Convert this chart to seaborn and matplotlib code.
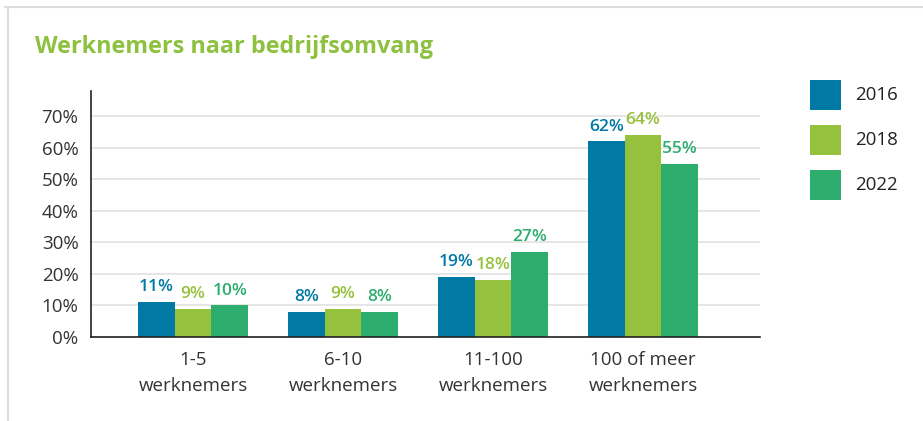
import matplotlib
matplotlib.use("Agg")
import matplotlib.pyplot as plt
import seaborn as sns
import pandas as pd
from matplotlib.lines import Line2D
from matplotlib.patches import Rectangle

categories = ["1-5\nwerknemers", "6-10\nwerknemers", "11-100\nwerknemers", "100 of meer\nwerknemers"]
years = ["2016", "2018", "2022"]
values_2016 = [11, 8, 19, 62]
values_2018 = [9, 9, 18, 64]
values_2022 = [10, 8, 27, 55]
colors = ["#007aa5", "#95c13d", "#2dae6f"]
yticks = [0, 10, 20, 30, 40, 50, 60, 70]

rows = []
for yr, vals in zip(years, [values_2016, values_2018, values_2022]):
    for c, v in zip(categories, vals):
        rows.append({"cat": c, "year": yr, "val": v})
df = pd.DataFrame(rows)

sns.set_theme(style="white")
plt.rcParams["font.family"] = ["Open Sans", "DejaVu Sans"]

W, H = 923, 421
fig = plt.figure(figsize=(W / 100, H / 100), dpi=100)
ax = fig.add_axes([91 / W, 1 - 337 / H, (760 - 91) / W, (337 - 91) / H])

sns.barplot(data=df, x="cat", y="val", hue="year", hue_order=years,
            palette=colors, width=0.735, ax=ax, legend=False, saturation=1,
            linewidth=0, edgecolor="none")

ax.set_xlim(-0.68, 3.78)
ax.set_ylim(0, 78)
ax.set_yticks(yticks)
ax.set_yticklabels([f"{t}%" for t in yticks], fontsize=13.5, color="#333333")
ax.tick_params(axis="x", labelsize=13.5, colors="#333333", length=0, pad=10)
ax.tick_params(axis="y", length=0, pad=9)
for lab in ax.get_xticklabels():
    lab.set_linespacing(1.55)
ax.set_xlabel("")
ax.set_ylabel("")
ax.yaxis.grid(True, color="#e2e2e2", linewidth=1.2)
ax.set_axisbelow(True)
for s in ["top", "right"]:
    ax.spines[s].set_visible(False)
for s in ["left", "bottom"]:
    ax.spines[s].set_color("#222222")
    ax.spines[s].set_linewidth(1.2)

for container, col in zip(ax.containers, colors):
    ax.bar_label(container, labels=[f"{int(v)}%" for v in container.datavalues],
                 padding=5, color=col, fontsize=12.5, fontweight="semibold")

fig.text(35 / W, 1 - 47 / H, "Werknemers naar bedrijfsomvang", color="#8dc13f",
         fontsize=16.8, fontweight="bold", va="center", ha="left")

# legend
for i, (yr, col) in enumerate(zip(years, colors)):
    top = 80 + 45 * i
    fig.add_artist(Rectangle((810 / W, 1 - (top + 30) / H), 31 / W, 30 / H,
                             transform=fig.transFigure, facecolor=col, edgecolor="none"))
    fig.text(855 / W, 1 - (top + 15) / H, yr, fontsize=13.5, color="#222222",
             va="center", ha="left")

fig.add_artist(Line2D([5 / W, 1], [1 - 7 / H, 1 - 7 / H], color="#dddddd", linewidth=1.5))
fig.add_artist(Line2D([8 / W, 8 / W], [0, 1 - 7 / H], color="#dddddd", linewidth=1.5))

fig.savefig("out.png", dpi=100)
